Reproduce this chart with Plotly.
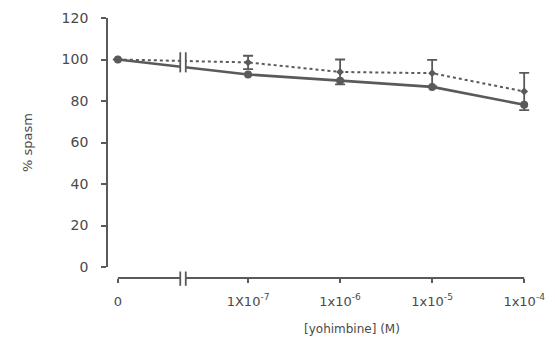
import numpy as np
import plotly.graph_objects as go

# ---- data ----
concentrations = [0, 1e-7, 1e-6, 1e-5, 1e-4]
tick_labels = ["0", "1X10<sup>-7</sup>", "1x10<sup>-6</sup>", "1x10<sup>-5</sup>", "1x10<sup>-4</sup>"]
spasm_solid = [100, 92.8, 89.8, 86.8, 78.2]
spasm_dotted = [100, 98.6, 94.0, 93.4, 84.6]
dotted_err = [0, 3.2, 6.0, 6.4, 9.0]
y_ticks = [0, 20, 40, 60, 80, 100, 120]

# ---- axis mapping: log10 for concentrations, fixed slot for zero ----
ZERO_POS = -8.415
BREAK_POS = -7.707
xpos = [ZERO_POS if c == 0 else np.log10(c) for c in concentrations]

ink = "#5a5a5a"
txt = "#4a4a4a"
family = "DejaVu Sans, Verdana, sans-serif"
font = dict(family=family, size=12, color=txt)

fig = go.Figure()
fig.add_trace(go.Scatter(
    x=xpos, y=spasm_dotted, mode="lines+markers",
    line=dict(color=ink, width=2, dash="dot"),
    marker=dict(color=ink, size=6, symbol="diamond"),
    error_y=dict(type="data", array=dotted_err, color=ink, thickness=1.8, width=5),
    showlegend=False))
fig.add_trace(go.Scatter(
    x=xpos, y=spasm_solid, mode="lines+markers",
    line=dict(color=ink, width=2.6),
    marker=dict(color=ink, size=8),
    showlegend=False))

shapes = []
gap = 0.03
# break on the data lines
shapes.append(dict(type="rect", xref="x", yref="y", x0=BREAK_POS - gap, x1=BREAK_POS + gap,
                   y0=93.5, y1=103.5, fillcolor="white", line=dict(width=0), layer="above"))
for s in (-1, 1):
    shapes.append(dict(type="line", xref="x", yref="y", x0=BREAK_POS + s * gap, x1=BREAK_POS + s * gap,
                       y0=93.8, y1=103.5, line=dict(color=ink, width=1.8), layer="above"))
# x axis line with break
shapes.append(dict(type="line", xref="x", yref="paper", x0=ZERO_POS, x1=BREAK_POS - gap,
                   y0=0, y1=0, line=dict(color=ink, width=1.8)))
shapes.append(dict(type="line", xref="x", yref="paper", x0=BREAK_POS + gap, x1=xpos[-1],
                   y0=0, y1=0, line=dict(color=ink, width=1.8)))
for s in (-1, 1):
    shapes.append(dict(type="line", xref="x", yref="paper", x0=BREAK_POS + s * gap, x1=BREAK_POS + s * gap,
                       y0=-0.03, y1=0.025, line=dict(color=ink, width=1.8)))

fig.update_layout(
    width=555, height=352,
    margin=dict(l=108, r=10, t=18, b=74),
    paper_bgcolor="white", plot_bgcolor="white",
    font=font,
    shapes=shapes,
    xaxis=dict(range=[-8.522, -3.839], tickvals=xpos, ticktext=tick_labels,
               showline=False, showgrid=False, zeroline=False,
               ticks="outside", ticklen=4, tickcolor=ink, tickwidth=1.5,
               tickfont=dict(family=family, size=13, color=txt),
               anchor="free", position=0, ticklabelstandoff=7),
    yaxis=dict(range=[0, 120], domain=[0.0423, 1], tickvals=y_ticks,
               showline=True, linecolor=ink, linewidth=1.8,
               showgrid=False, zeroline=False,
               ticks="outside", ticklen=5, tickcolor=ink, tickwidth=1.5,
               tickfont=dict(family=family, size=14, color=txt),
               ticklabelstandoff=10,
               title=dict(text="% spasm", standoff=26,
                          font=dict(family=family, size=13, color=txt))),
    annotations=[dict(text="[yohimbine] (M)", xref="paper", yref="paper",
                      x=0.565, y=-0.23, showarrow=False,
                      font=dict(family=family, size=12, color=txt))],
)

fig.write_html("out.html")
